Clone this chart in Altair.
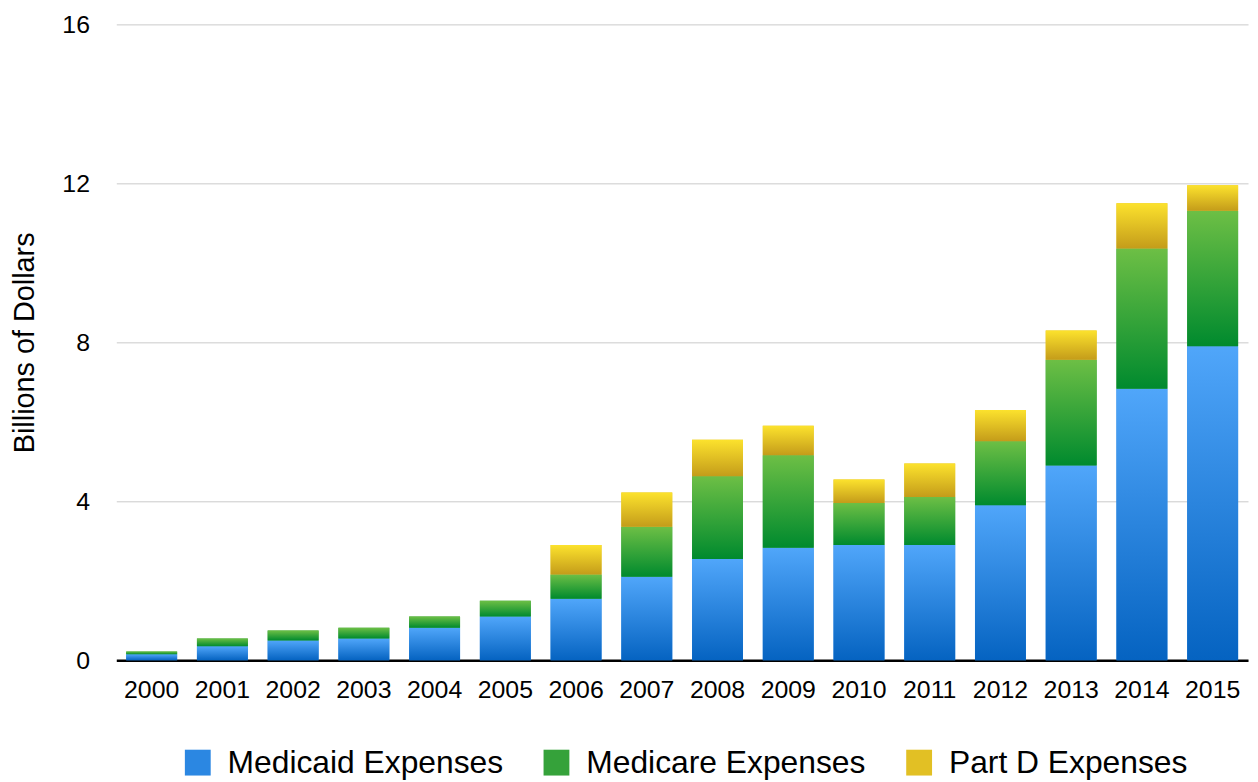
import altair as alt
import pandas as pd

years = [str(y) for y in range(2000, 2016)]
medicaid = [0.15, 0.35, 0.5, 0.55, 0.82, 1.1, 1.55, 2.1, 2.55, 2.83, 2.9, 2.9, 3.9, 4.9, 6.83, 7.9]
medicare = [0.07, 0.2, 0.25, 0.27, 0.28, 0.4, 0.61, 1.26, 2.08, 2.33, 1.06, 1.21, 1.61, 2.66, 3.53, 3.41]
partd = [0.0, 0.0, 0.0, 0.0, 0.0, 0.0, 0.74, 0.86, 0.92, 0.74, 0.59, 0.84, 0.79, 0.74, 1.14, 0.64]

series = ["Medicaid Expenses", "Medicare Expenses", "Part D Expenses"]
legend_colors = ["#2B87E2", "#35A23A", "#E2C024"]
grad = {
    "Medicaid Expenses": ("#50A6FA", "#0563C1"),
    "Medicare Expenses": ("#6DBF45", "#008A2E"),
    "Part D Expenses": ("#FCE22D", "#C49C1A"),
}

rows = []
for i, y in enumerate(years):
    for k, (s, vals) in enumerate(zip(series, [medicaid, medicare, partd])):
        rows.append({"year": y, "series": s, "order": k, "value": vals[i]})
df = pd.DataFrame(rows)

FONT = "Liberation Sans"

base = alt.Chart(df).transform_stack(
    stack="value", groupby=["year"], as_=["y0", "y1"], sort=[alt.SortField("order")]
)

xenc = alt.X(
    "year:N",
    title=None,
    scale=alt.Scale(paddingInner=0.28, paddingOuter=0.14),
    axis=alt.Axis(
        labelAngle=0,
        labelFontSize=25,
        labelFont=FONT,
        labelColor="black",
        labelPadding=17,
        ticks=False,
        tickSize=0,
        domainColor="black",
        domainWidth=2.5,
        grid=False,
    ),
)
yenc = alt.Y(
    "y0:Q",
    title="Billions of Dollars",
    scale=alt.Scale(domain=[0, 16]),
    axis=alt.Axis(
        values=[0, 4, 8, 12, 16],
        labelFontSize=25,
        labelFont=FONT,
        labelColor="black",
        labelPadding=27,
        ticks=False,
        tickSize=0,
        domain=False,
        gridColor="#CACACA",
        gridWidth=1,
        titleFontSize=29,
        titleFont=FONT,
        titleFontWeight="normal",
        titleColor="black",
        titleX=-92,
        titleY=320,
        titleAngle=270,
        titleAlign="center",
        titleBaseline="middle",
    ),
)

legend_layer = base.mark_bar().encode(
    x=xenc,
    y=yenc,
    y2="y1:Q",
    color=alt.Color(
        "series:N",
        scale=alt.Scale(domain=series, range=legend_colors),
        legend=alt.Legend(
            title=None,
            orient="none",
            direction="horizontal",
            legendX=66,
            legendY=727,
            symbolType="square",
            symbolSize=676,
            symbolStrokeWidth=0,
            labelFontSize=32,
            labelFont=FONT,
            labelColor="black",
            labelOffset=14,
            columnPadding=37,
            labelLimit=400,
        ),
    ),
)

layers = [legend_layer]
for s in series:
    top, bottom = grad[s]
    layers.append(
        base.transform_filter(alt.datum.series == s)
        .mark_bar(
            color=alt.Gradient(
                gradient="linear",
                stops=[
                    alt.GradientStop(color=top, offset=0),
                    alt.GradientStop(color=bottom, offset=1),
                ],
                x1=0, x2=0, y1=0, y2=1,
            )
        )
        .encode(x=alt.X("year:N"), y=alt.Y("y0:Q"), y2="y1:Q")
    )

chart = (
    alt.layer(*layers)
    .properties(
        width=1139,
        height=640,
        autosize=alt.AutoSizeParams(type="none"),
        padding={"left": 109, "top": 14, "right": 2, "bottom": 118},
        background="white",
    )
    .configure_view(stroke=None)
)

chart.save("out.html", embed_options={"renderer": "svg", "actions": False})
